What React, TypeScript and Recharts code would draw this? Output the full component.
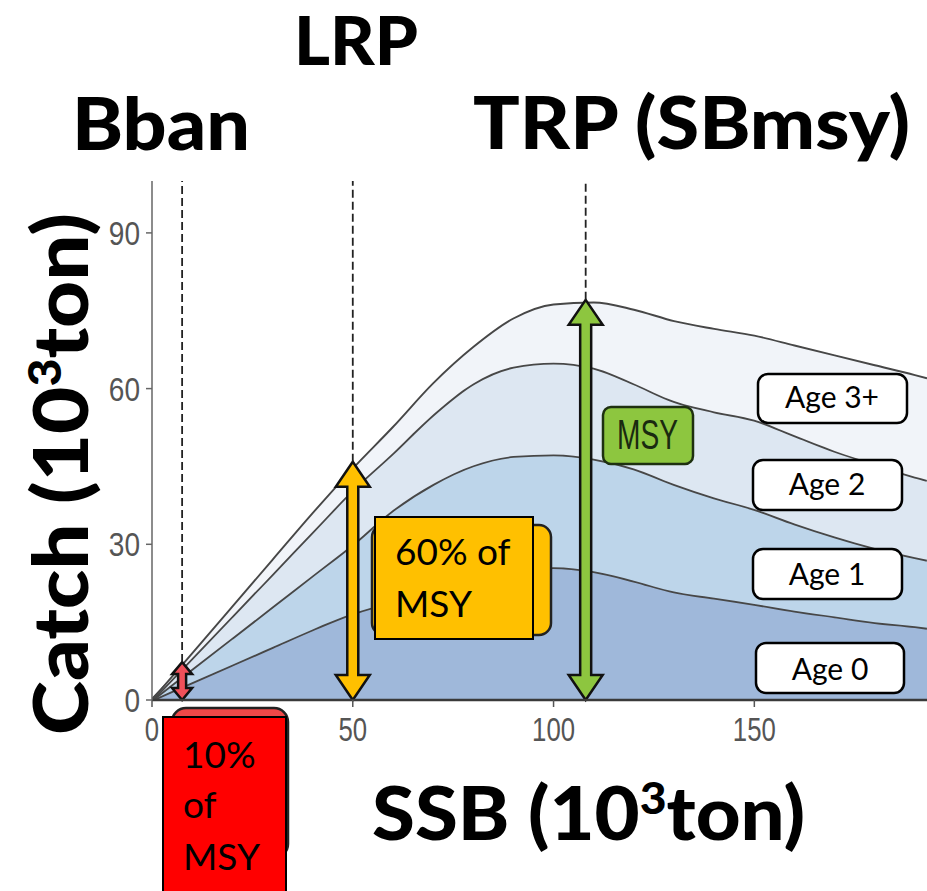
import React from 'react';
import { AreaChart, Area, XAxis, YAxis, ReferenceLine, ReferenceArea } from 'recharts';

// SSB (10^3 ton)
const ssb = [0, 10, 20, 30, 40, 50, 60, 70, 80, 90, 100, 110, 120, 130, 140, 150, 160, 170, 180, 190, 193];
// Catch by age (10^3 ton), stacked
const age0 = [0, 3.4, 6.8, 10.2, 13.6, 16.7, 19, 21.3, 23.7, 25.1, 25.6, 24.8, 23, 20.9, 19.7, 18.5, 17.2, 16.1, 15, 14.2, 13.9];
const age1 = [0, 2.6, 5.2, 7.8, 10.4, 13.3, 17.6, 20.3, 21.5, 21.9, 21.7, 21.7, 21.6, 20.7, 19.3, 18.3, 16.8, 15.4, 14.3, 13.3, 13.1];
const age2 = [0, 2.1, 4.2, 6.3, 8.4, 10.5, 11, 13.4, 15.8, 17.2, 17.7, 17.5, 16.4, 16, 16.6, 17.2, 17, 16.5, 16.2, 15.5, 15.4];
const age3 = [0, 0.9, 1.8, 2.7, 3.6, 4.1, 5, 6, 7, 9.3, 11.2, 12.6, 14.2, 15.4, 15.9, 16.2, 17.3, 18.4, 19, 19.6, 19.6];

const xTicks = [0, 50, 100, 150];
const yTicks = [0, 30, 60, 90];

// reference points
const bban = { x: 7.5, top: 7.3 };
const lrp = { x: 50, top: 45.9 };
const trp = { x: 108, top: 77.1 };

const data = ssb.map((s, i) => ({ ssb: s, age0: age0[i], age1: age1[i], age2: age2[i], age3: age3[i] }));

const makeArrow = (fill: string, sw: number, hw: number, hl: number) => (props: any) => {
  const { x, y, width, height } = props;
  const cx = x + width / 2;
  const ty = y;
  const by = y + height;
  const pts = [
    [cx, ty], [cx + hw, ty + hl], [cx + sw, ty + hl], [cx + sw, by - hl], [cx + hw, by - hl],
    [cx, by], [cx - hw, by - hl], [cx - sw, by - hl], [cx - sw, ty + hl], [cx - hw, ty + hl],
  ].map((p) => p.join(',')).join(' ');
  return <polygon points={pts} fill={fill} stroke="#111" strokeWidth={2.5} strokeLinejoin="miter" />;
};

const LINE = '#474747';
const TICKFONT = '"Liberation Sans", Arial, sans-serif';
const LABELFONT = 'Lato, "Noto Sans", sans-serif';

const XTick = (props: any) => {
  const { x, y, payload } = props;
  return (
    <g transform={`translate(${x},${y}) scale(0.78,1)`}>
      <text x={0} y={0} dy={34} textAnchor="middle" fontSize={33} fontFamily={TICKFONT} fill="#555">
        {payload.value}
      </text>
    </g>
  );
};

const YTick = (props: any) => {
  const { x, y, payload } = props;
  return (
    <g transform={`translate(${x},${y}) scale(0.85,1)`}>
      <text x={0} y={0} dy={12} textAnchor="end" fontSize={33} fontFamily={TICKFONT} fill="#555">
        {payload.value}
      </text>
    </g>
  );
};

export default function App() {
  return (
    <div style={{ position: 'absolute', left: 0, top: 0, width: 927, height: 891, background: '#fff', overflow: 'hidden' }}>
      <AreaChart
        width={927}
        height={891}
        data={data}
        margin={{ top: 181, right: 0, bottom: 0, left: 0 }}
      >
        <XAxis
          type="number"
          dataKey="ssb"
          domain={[0, 193]}
          ticks={xTicks}
          height={191}
          allowDataOverflow
          tickSize={7}
          tickMargin={0}
          tick={<XTick />}
          tickLine={{ stroke: '#555', strokeWidth: 1.5 }}
          axisLine={{ stroke: '#3a3a3a', strokeWidth: 2.5 }}
        />
        <YAxis
          type="number"
          domain={[0, 100]}
          ticks={yTicks}
          width={152}
          allowDataOverflow
          tickSize={6}
          tickMargin={6}
          tick={<YTick />}
          tickLine={{ stroke: '#666', strokeWidth: 1.5 }}
          axisLine={{ stroke: '#666', strokeWidth: 1.5 }}
        />
        <Area type="monotone" dataKey="age0" stackId="1" fill="#9fb8da" fillOpacity={1} stroke={LINE} strokeWidth={3.6} isAnimationActive={false} dot={false} activeDot={false} />
        <Area type="monotone" dataKey="age1" stackId="1" fill="#bdd5ea" fillOpacity={1} stroke={LINE} strokeWidth={3.6} isAnimationActive={false} dot={false} activeDot={false} />
        <Area type="monotone" dataKey="age2" stackId="1" fill="#dde7f2" fillOpacity={1} stroke={LINE} strokeWidth={3.6} isAnimationActive={false} dot={false} activeDot={false} />
        <Area type="monotone" dataKey="age3" stackId="1" fill="#f1f4f9" fillOpacity={1} stroke={LINE} strokeWidth={1.9} isAnimationActive={false} dot={false} activeDot={false} />
        <ReferenceLine segment={[{ x: bban.x, y: bban.top }, { x: bban.x, y: 100 }]} stroke="#222" strokeWidth={1.8} strokeDasharray="8 4" />
        <ReferenceLine segment={[{ x: lrp.x, y: lrp.top }, { x: lrp.x, y: 100 }]} stroke="#222" strokeWidth={1.8} strokeDasharray="8 4" />
        <ReferenceLine segment={[{ x: trp.x, y: trp.top }, { x: trp.x, y: 100 }]} stroke="#222" strokeWidth={1.8} strokeDasharray="8 4" />
        <ReferenceArea x1={bban.x - 0.01} x2={bban.x + 0.01} y1={0} y2={bban.top} shape={makeArrow('#f0505a', 4, 10, 12)} />
        <ReferenceArea x1={lrp.x - 0.01} x2={lrp.x + 0.01} y1={0} y2={lrp.top} shape={makeArrow('#ffc000', 5.5, 17, 25)} />
        <ReferenceArea x1={trp.x - 0.01} x2={trp.x + 0.01} y1={0} y2={trp.top} shape={makeArrow('#8dc63f', 5.5, 17, 25)} />
      </AreaChart>
      <svg width={927} height={891} style={{ position: 'absolute', left: 0, top: 0, pointerEvents: 'none' }}>
        {/* Titles */}
        <g fontFamily={LABELFONT} fontWeight={900} fill="#000">
          <text x={294} y={65} fontSize={66} textLength={124} lengthAdjust="spacingAndGlyphs">LRP</text>
          <text x={72} y={150} fontSize={73} textLength={178} lengthAdjust="spacingAndGlyphs">Bban</text>
          <text x={473} y={149} fontSize={73} textLength={437} lengthAdjust="spacingAndGlyphs">TRP (SBmsy)</text>
          <text x={372} y={840} fontSize={74} textLength={433} lengthAdjust="spacingAndGlyphs">
            SSB (10<tspan fontSize={44} dy={-26}>3</tspan><tspan dy={26}>ton)</tspan>
          </text>
          <text x={88} y={735} fontSize={76} textLength={522} lengthAdjust="spacingAndGlyphs" transform="rotate(-90 88 735)">
            Catch (10<tspan fontSize={45} dy={-27}>3</tspan><tspan dy={27}>ton)</tspan>
          </text>
        </g>
        {/* 60% of MSY */}
        <rect x={372} y={525} width={179} height={110} rx={12} fill="#ffc000" stroke="#222" strokeWidth={2.5} />
        <rect x={375} y={517} width={158} height={122} fill="#ffc000" stroke="#000" strokeWidth={2} />
        <g fontFamily={LABELFONT} fontSize={37} fill="#000">
          <text x={395} y={565}>60% of</text>
          <text x={395} y={617}>MSY</text>
        </g>
        {/* MSY */}
        <rect x={603} y={407} width={90} height={57} rx={8} fill="#8dc63f" stroke="#1e3010" strokeWidth={2.5} />
        <text x={617} y={449} fontSize={42} fontFamily={TICKFONT} fill="#1a2a10" textLength={61} lengthAdjust="spacingAndGlyphs">MSY</text>
        {/* 10% of MSY */}
        <rect x={172} y={708} width={116} height={150} rx={14} fill="#ef4848" stroke="#222" strokeWidth={2.5} />
        <rect x={163} y={717} width={123} height={200} fill="#ff0000" stroke="#000" strokeWidth={2} />
        <g fontFamily={LABELFONT} fontSize={37} fill="#000">
          <text x={183} y={768}>10%</text>
          <text x={183} y={818}>of</text>
          <text x={183} y={870}>MSY</text>
        </g>
        {/* Age labels */}
        <g fontFamily={LABELFONT} fontSize={30} fill="#000" textAnchor="middle">
          <rect x={758} y={374} width={149} height={49} rx={10} fill="#fff" stroke="#000" strokeWidth={2.5} />
          <text x={832} y={408}>Age 3+</text>
          <rect x={753} y={460} width={149} height={50} rx={10} fill="#fff" stroke="#000" strokeWidth={2.5} />
          <text x={827} y={495}>Age 2</text>
          <rect x={753} y={549} width={149} height={50} rx={10} fill="#fff" stroke="#000" strokeWidth={2.5} />
          <text x={827} y={585}>Age 1</text>
          <rect x={756} y={643} width={148} height={50} rx={10} fill="#fff" stroke="#000" strokeWidth={2.5} />
          <text x={830} y={680}>Age 0</text>
        </g>
      </svg>
    </div>
  );
}
